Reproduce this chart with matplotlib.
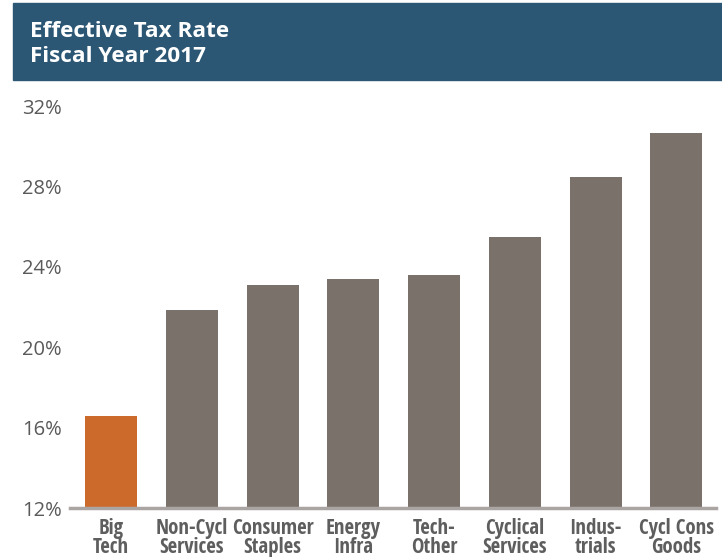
import matplotlib
matplotlib.use("Agg")
import matplotlib.pyplot as plt
from matplotlib.patches import Rectangle

categories = ["Big\nTech", "Non-Cycl\nServices", "Consumer\nStaples", "Energy\nInfra",
              "Tech-\nOther", "Cyclical\nServices", "Indus-\ntrials", "Cycl Cons\nGoods"]
rates = [16.6, 21.85, 23.1, 23.4, 23.6, 25.5, 28.45, 30.65]
yticks = [12, 16, 20, 24, 28, 32]

orange = "#cc6a2c"
grey = "#7a716b"
colors = [orange] + [grey] * (len(rates) - 1)

fig = plt.figure(figsize=(7.22, 5.57), dpi=100)
W, H = 722, 557
ax = fig.add_axes([70 / W, 1 - 508 / H, (716 - 70) / W, (508 - 106) / H])

x = range(len(rates))
ax.bar(x, rates, width=0.645, color=colors, bottom=0, zorder=2)
ax.set_ylim(12, 32)
ax.set_xlim(-0.51, 7.49)

for s in ["top", "right", "left"]:
    ax.spines[s].set_visible(False)
ax.spines["bottom"].set_color("#aaa5a2")
ax.spines["bottom"].set_linewidth(2.5)
ax.spines["bottom"].set_zorder(3)

ax.set_yticks(yticks)
ax.set_yticklabels([f"{v}%" for v in yticks], fontsize=14.5, color="#5a5a5a",
                   family=["Open Sans", "DejaVu Sans"])
ax.tick_params(axis="y", length=0, pad=6)
ax.set_xticks(list(x))
narrow = ["Open Sans Condensed", "Liberation Sans Narrow", "Roboto Condensed",
          "DejaVu Sans Condensed", "Roboto", "DejaVu Sans"]
ax.set_xticklabels(categories, fontsize=15, color="#5e5e5e", fontweight="bold",
                   fontstretch="condensed", family=narrow, linespacing=0.9)
ax.tick_params(axis="x", length=0, pad=7)

# title band
fig.patches.append(Rectangle((13 / W, 1 - 80 / H), 1 - 13 / W, 77 / H,
                             transform=fig.transFigure, color="#2b5775", zorder=0))
fig.text(30 / W, 1 - 44 / H, "Effective Tax Rate\nFiscal Year 2017", color="white",
         fontsize=16.2, fontweight="bold", family=["Open Sans", "DejaVu Sans"],
         va="center", ha="left", linespacing=1.3)

fig.savefig("out.png", dpi=100)
